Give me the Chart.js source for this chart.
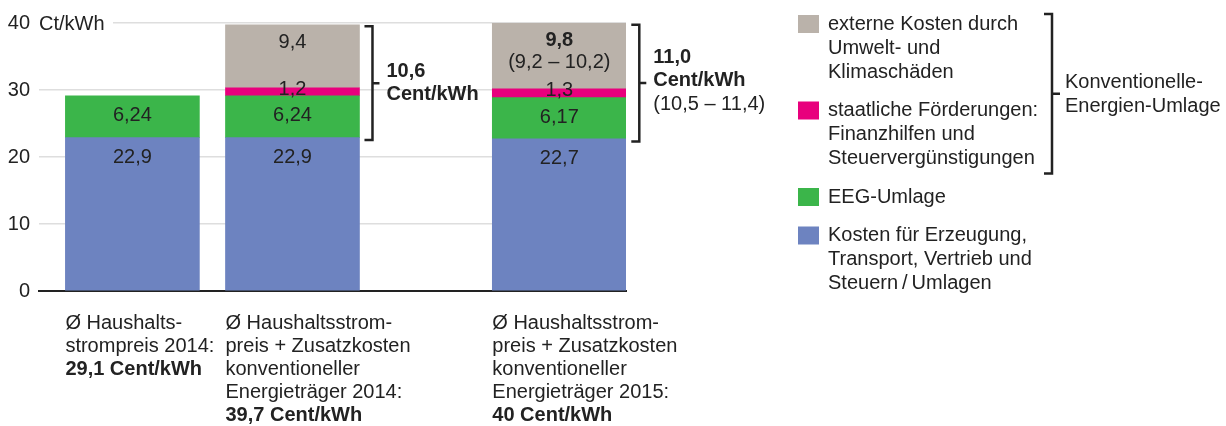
<!DOCTYPE html>
<html>
<head>
<meta charset="utf-8">
<script src="https://cdn.jsdelivr.net/npm/chart.js@4/dist/chart.umd.min.js"></script>
<style>
  html, body { margin: 0; padding: 0; background: #fff; }
  #wrap { width: 1226px; height: 426px; position: relative; }
</style>
</head>
<body>
<div id="wrap"><canvas id="c"></canvas></div>
<script>
// ---------- DATA ----------
const categories = [
  ["Ø Haushalts-", "strompreis 2014:"],
  ["Ø Haushaltsstrom-", "preis + Zusatzkosten", "konventioneller", "Energieträger 2014:"],
  ["Ø Haushaltsstrom-", "preis + Zusatzkosten", "konventioneller", "Energieträger 2015:"]
];
const categoryTotals = ["29,1 Cent/kWh", "39,7 Cent/kWh", "40 Cent/kWh"];

const generationCosts = [22.9, 22.9, 22.7];   // Kosten für Erzeugung, Transport, Vertrieb und Steuern/Umlagen
const eegLevy        = [6.24, 6.24, 6.17];    // EEG-Umlage
const stateSubsidies = [null, 1.2, 1.3];      // staatliche Förderungen
const externalCosts  = [null, 9.4, 9.8];      // externe Kosten
const externalCostRange = [null, null, "(9,2 – 10,2)"];

const conventionalLevy = [null, "10,6", "11,0"];
const conventionalLevyRange = [null, null, "(10,5 – 11,4)"];
const levyUnit = "Cent/kWh";

const yTicks = [0, 10, 20, 30, 40];
const yUnit = "Ct/kWh";

const seriesNames = [
  ["Kosten für Erzeugung,", "Transport, Vertrieb und", "Steuern\u2009/\u2009Umlagen"],
  ["EEG-Umlage"],
  ["staatliche Förderungen:", "Finanzhilfen und", "Steuervergünstigungen"],
  ["externe Kosten durch", "Umwelt- und", "Klimaschäden"]
];
const levyGroupLabel = ["Konventionelle-", "Energien-Umlage"];

// ---------- LAYOUT (category slots on the x axis; spacers are empty) ----------
const SLOT_COUNT = 22;
const SLOT_INDEX = [3, 9, 19];
const slotLabels = Array.from({ length: SLOT_COUNT }, (_, i) => "s" + i);
const toSlots = values => {
  const arr = new Array(SLOT_COUNT).fill(null);
  SLOT_INDEX.forEach((s, i) => { arr[s] = values[i]; });
  return arr;
};

// ---------- STYLE ----------
const FONT = "'Liberation Sans', Arial, Helvetica, sans-serif";
const TEXT = '#222222';
const COLORS = ['#6d83c0', '#3bb54a', '#e8007d', '#bab2aa'];
const fmt = v => String(v).replace('.', ',');

function drawBracket(ctx, x, top, bottom, mid, leftLen, rightLen) {
  ctx.beginPath();
  ctx.moveTo(x - leftLen, top);
  ctx.lineTo(x, top);
  ctx.lineTo(x, bottom);
  ctx.lineTo(x - leftLen, bottom);
  ctx.moveTo(x, mid);
  ctx.lineTo(x + rightLen, mid);
  ctx.stroke();
}

const annotations = {
  id: 'annotations',
  beforeDatasetsDraw(chart) {
    const { ctx, chartArea } = chart;
    const y = chart.scales.y.getPixelForValue(yTicks[yTicks.length - 1]);
    ctx.save();
    ctx.fillStyle = '#ffffff';
    ctx.fillRect(chartArea.left - 2, y - 4, 76, 8);
    ctx.font = `20px ${FONT}`;
    ctx.fillStyle = TEXT;
    ctx.textBaseline = 'middle';
    ctx.textAlign = 'left';
    ctx.fillText(yUnit, chartArea.left, y + 1);
    ctx.restore();
  },
  afterDatasetsDraw(chart) {
    const { ctx } = chart;
    const metas = [0, 1, 2, 3].map(d => chart.getDatasetMeta(d));
    ctx.save();
    ctx.fillStyle = TEXT;
    ctx.textAlign = 'center';
    ctx.textBaseline = 'middle';
    const regular = `20px ${FONT}`;
    const bold = `bold 20px ${FONT}`;

    SLOT_INDEX.forEach((s, i) => {
      const blue = metas[0].data[s];
      const green = metas[1].data[s];
      const pink = metas[2].data[s];
      const gray = metas[3].data[s];

      ctx.font = regular;
      ctx.fillText(fmt(generationCosts[i]), blue.x, blue.y + 20);
      ctx.fillText(fmt(eegLevy[i]), green.x, (green.y + green.base) / 2 - 1);
      if (stateSubsidies[i] != null) {
        ctx.fillText(fmt(stateSubsidies[i]), pink.x, (pink.y + pink.base) / 2 - 2.5);
      }
      if (externalCosts[i] != null) {
        if (externalCostRange[i]) {
          ctx.font = bold;
          ctx.fillText(fmt(externalCosts[i]), gray.x, gray.y + 17);
          ctx.font = regular;
          ctx.fillText(externalCostRange[i], gray.x, gray.y + 39);
        } else {
          ctx.fillText(fmt(externalCosts[i]), gray.x, gray.y + 18);
        }
      }

      // bracket with conventional-energy levy
      if (conventionalLevy[i]) {
        const x = gray.x + gray.width / 2 + 13;
        const top = gray.y + 1.5;
        const bottom = blue.y + 2.5;
        const mid = (top + bottom) / 2;
        ctx.strokeStyle = TEXT;
        ctx.lineWidth = 2.5;
        drawBracket(ctx, x, top, bottom, mid, 8, 7);
        const lines = [[conventionalLevy[i], bold], [levyUnit, bold]];
        if (conventionalLevyRange[i]) lines.push([conventionalLevyRange[i], regular]);
        const lh = 23.5;
        let y0 = mid - (lines.length - 1) * lh / 2 - (lines.length > 2 ? 2.5 : 0);
        ctx.textAlign = 'left';
        lines.forEach(([t, f], k) => {
          ctx.font = f;
          ctx.fillText(t, x + 14, y0 + k * lh);
        });
        ctx.textAlign = 'center';
      }
    });
    ctx.restore();
  },
  afterDraw(chart) {
    const { ctx, chartArea } = chart;
    const blueMeta = chart.getDatasetMeta(0);
    ctx.save();
    ctx.fillStyle = TEXT;
    ctx.textBaseline = 'middle';
    ctx.textAlign = 'left';

    // category labels under the bars
    SLOT_INDEX.forEach((s, i) => {
      const el = blueMeta.data[s];
      const left = el.x - el.width / 2;
      const lines = categories[i];
      const lh = 23;
      let y = chartArea.bottom + 32;
      ctx.font = `20px ${FONT}`;
      lines.forEach(t => { ctx.fillText(t, left, y); y += lh; });
      ctx.font = `bold 20px ${FONT}`;
      ctx.fillText(categoryTotals[i], left, y);
    });

    // legend (top series first)
    const order = [3, 2, 1, 0];
    const sqX = 798, txtX = 828, lh = 24, gap = 14.5;
    let lineY = 24;
    const pos = {};
    order.forEach(d => {
      const ds = chart.data.datasets[d];
      ctx.fillStyle = ds.backgroundColor;
      ctx.fillRect(sqX, lineY - 9, 21, 18);
      ctx.fillStyle = TEXT;
      ctx.font = `20px ${FONT}`;
      const names = seriesNames[d];
      names.forEach((t, k) => ctx.fillText(t, txtX, lineY + k * lh));
      pos[d] = { first: lineY, last: lineY + (names.length - 1) * lh };
      lineY += names.length * lh + gap;
    });

    // legend bracket for the conventional-energy levy
    const bTop = pos[3].first - 10;
    const bBottom = pos[2].last + 15;
    const bMid = (bTop + bBottom) / 2;
    ctx.strokeStyle = TEXT;
    ctx.lineWidth = 2.5;
    drawBracket(ctx, 1052, bTop, bBottom, bMid, 8, 8);
    ctx.font = `20px ${FONT}`;
    ctx.fillStyle = TEXT;
    levyGroupLabel.forEach((t, k) => ctx.fillText(t, 1065, bMid - 11 + k * 24));
    ctx.restore();
  }
};

new Chart(document.getElementById('c'), {
  type: 'bar',
  data: {
    labels: slotLabels,
    datasets: [
      { label: seriesNames[0].join(' '), data: toSlots(generationCosts), backgroundColor: COLORS[0] },
      { label: seriesNames[1].join(' '), data: toSlots(eegLevy),        backgroundColor: COLORS[1] },
      { label: seriesNames[2].join(' '), data: toSlots(stateSubsidies), backgroundColor: COLORS[2] },
      { label: seriesNames[3].join(' '), data: toSlots(externalCosts),  backgroundColor: COLORS[3] }
    ].map(ds => Object.assign(ds, { barThickness: 134, borderWidth: 0 }))
  },
  options: {
    responsive: true,
    maintainAspectRatio: false,
    animation: false,
    layout: { padding: { top: 23, right: 600, bottom: 0, left: 0 } },
    plugins: { legend: { display: false }, tooltip: { enabled: false } },
    scales: {
      x: {
        stacked: true,
        offset: true,
        grid: { display: false },
        border: { display: true, color: TEXT, width: 2 },
        ticks: { display: false },
        afterFit: s => { s.height = 135; }
      },
      y: {
        stacked: true,
        min: yTicks[0],
        max: yTicks[yTicks.length - 1],
        afterBuildTicks: s => { s.ticks = yTicks.map(v => ({ value: v })); },
        grid: {
          color: c => (c.tick && c.tick.value === 0) ? 'rgba(0,0,0,0)' : '#dedede',
          lineWidth: 1.5,
          drawTicks: false
        },
        border: { display: false },
        ticks: { font: { family: FONT, size: 20 }, color: TEXT, padding: 9 },
        afterFit: s => { s.width = 39; }
      }
    }
  },
  plugins: [annotations]
});
</script>
</body>
</html>
